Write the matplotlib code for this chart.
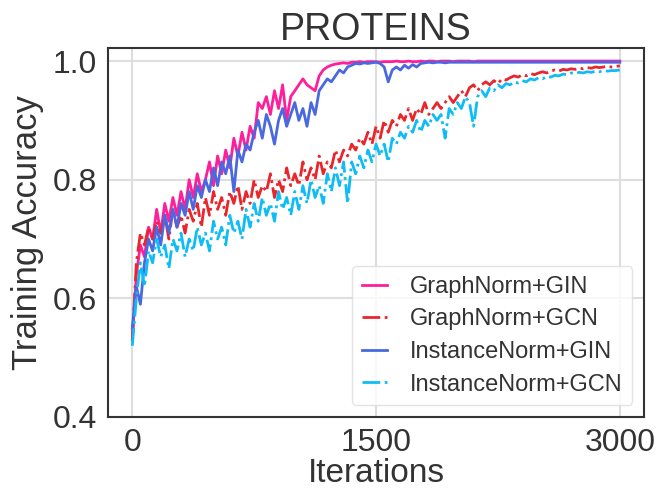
import numpy as np
import matplotlib
matplotlib.use('Agg')
import matplotlib.pyplot as plt

# iterations shared by all four runs (one point every 25 iterations)
iterations = np.arange(0, 3001, 25)

graphnorm_gin = [
    0.53, 0.64, 0.69, 0.67, 0.72, 0.70, 0.75, 0.71, 0.76, 0.73,
    0.77, 0.74, 0.78, 0.75, 0.80, 0.77, 0.81, 0.78, 0.80, 0.83,
    0.79, 0.84, 0.81, 0.85, 0.82, 0.87, 0.84, 0.88, 0.85, 0.89,
    0.87, 0.93, 0.92, 0.94, 0.91, 0.95, 0.92, 0.96, 0.90, 0.94,
    0.95, 0.96, 0.97, 0.96, 0.955, 0.95, 0.975, 0.985, 0.99, 0.993,
    0.995, 0.996, 0.997, 0.996, 0.998, 0.998, 0.999, 0.998, 0.999, 0.999,
    0.999, 0.998, 0.999, 0.999, 0.999, 1.0, 0.999, 0.999, 1.0, 0.999,
    0.999, 1.0, 0.999, 1.0, 1.0, 0.999, 1.0, 1.0, 1.0, 0.999,
    1.0, 1.0, 1.0, 1.0, 0.999, 1.0, 1.0, 1.0, 1.0, 1.0,
    1.0, 1.0, 1.0, 1.0, 1.0, 1.0, 1.0, 1.0, 1.0, 1.0,
    1.0, 1.0, 1.0, 1.0, 1.0, 1.0, 1.0, 1.0, 1.0, 1.0,
    1.0, 1.0, 1.0, 1.0, 1.0, 1.0, 1.0, 1.0, 1.0, 1.0,
    1.0,
]

graphnorm_gcn = [
    0.53, 0.66, 0.71, 0.69, 0.72, 0.70, 0.73, 0.71, 0.74, 0.70,
    0.75, 0.72, 0.74, 0.71, 0.75, 0.73, 0.76, 0.72, 0.77, 0.74,
    0.78, 0.75, 0.77, 0.74, 0.78, 0.76, 0.79, 0.75, 0.78, 0.76,
    0.80, 0.77, 0.79, 0.78, 0.81, 0.77, 0.80, 0.78, 0.82, 0.79,
    0.81, 0.79, 0.83, 0.80, 0.82, 0.80, 0.84, 0.81, 0.83, 0.82,
    0.85, 0.83, 0.85, 0.84, 0.86, 0.85, 0.87, 0.86, 0.88, 0.86,
    0.89, 0.87, 0.90, 0.88, 0.90, 0.89, 0.91, 0.90, 0.92, 0.90,
    0.92, 0.91, 0.93, 0.91, 0.92, 0.93, 0.92, 0.93, 0.94, 0.93,
    0.94, 0.95, 0.94, 0.955, 0.96, 0.95, 0.96, 0.965, 0.96, 0.967,
    0.962, 0.97, 0.968, 0.972, 0.975, 0.973, 0.977, 0.975, 0.979, 0.977,
    0.98, 0.982, 0.98, 0.983, 0.985, 0.983, 0.986, 0.985, 0.987, 0.986,
    0.988, 0.987, 0.989, 0.988, 0.99, 0.989, 0.99, 0.991, 0.99, 0.991,
    0.992,
]

instancenorm_gin = [
    0.55, 0.62, 0.59, 0.66, 0.70, 0.68, 0.72, 0.69, 0.74, 0.71,
    0.75, 0.72, 0.76, 0.74, 0.78, 0.75, 0.79, 0.77, 0.80, 0.78,
    0.82, 0.79, 0.83, 0.81, 0.84, 0.78, 0.85, 0.83, 0.86, 0.85,
    0.88, 0.90, 0.87, 0.91, 0.89, 0.86, 0.90, 0.92, 0.89, 0.91,
    0.93, 0.90, 0.92, 0.89, 0.93, 0.91, 0.95, 0.96, 0.97, 0.965,
    0.975, 0.985, 0.98, 0.99, 0.993, 0.996, 0.995, 0.997, 0.996, 0.997,
    0.998, 0.996, 0.99, 0.965, 0.985, 0.99, 0.985, 0.993, 0.988, 0.994,
    0.99, 0.996, 0.997, 0.998, 0.997, 0.998, 0.998, 0.997, 0.998, 0.998,
    0.998, 0.998, 0.998, 0.998, 0.998, 0.998, 0.998, 0.998, 0.998, 0.998,
    0.998, 0.998, 0.998, 0.998, 0.998, 0.998, 0.998, 0.998, 0.998, 0.998,
    0.998, 0.998, 0.998, 0.998, 0.998, 0.998, 0.998, 0.998, 0.998, 0.998,
    0.998, 0.998, 0.998, 0.998, 0.998, 0.998, 0.998, 0.998, 0.998, 0.998,
    0.998,
]

instancenorm_gcn = [
    0.52, 0.60, 0.66, 0.62, 0.68, 0.66, 0.70, 0.67, 0.69, 0.65,
    0.70, 0.68, 0.71, 0.67, 0.70, 0.68, 0.72, 0.69, 0.71, 0.68,
    0.73, 0.70, 0.72, 0.69, 0.74, 0.71, 0.73, 0.70, 0.75, 0.72,
    0.76, 0.73, 0.77, 0.74, 0.76, 0.73, 0.78, 0.75, 0.77, 0.74,
    0.78, 0.75, 0.79, 0.76, 0.80, 0.77, 0.79, 0.76, 0.81, 0.78,
    0.82, 0.79, 0.83, 0.76, 0.83, 0.81, 0.84, 0.82, 0.85, 0.83,
    0.86, 0.84, 0.86, 0.83, 0.87, 0.86, 0.88, 0.87, 0.89, 0.88,
    0.90, 0.88, 0.90, 0.89, 0.91, 0.90, 0.91, 0.87, 0.92, 0.91,
    0.93, 0.92, 0.94, 0.93, 0.89, 0.94, 0.95, 0.94, 0.955, 0.95,
    0.96, 0.955, 0.962, 0.96, 0.965, 0.963, 0.967, 0.965, 0.97, 0.968,
    0.972, 0.97, 0.974, 0.973, 0.976, 0.975, 0.978, 0.977, 0.98, 0.979,
    0.981, 0.98, 0.982, 0.981, 0.983, 0.982, 0.984, 0.983, 0.984, 0.984,
    0.985,
]

labels = ['GraphNorm+GIN', 'GraphNorm+GCN', 'InstanceNorm+GIN', 'InstanceNorm+GCN']
colors = ['#ff1f9a', '#e8262b', '#4a68e0', '#10bcf5']
styles = ['-', '-.', '-', '-.']

plt.rcParams['font.family'] = ['Liberation Sans', 'DejaVu Sans']

fig = plt.figure(figsize=(6.58, 4.90), dpi=100)
ax = fig.add_axes([0.164, 0.149, 0.815, 0.753])

for ys, lab, c, ls in zip([graphnorm_gin, graphnorm_gcn, instancenorm_gin, instancenorm_gcn],
                          labels, colors, styles):
    ax.plot(iterations, ys, ls, color=c, lw=2, label=lab)

ax.set_xlim(-150, 3150)
ax.set_ylim(0.4, 1.022)
ax.set_xticks([0, 1500, 3000])
ax.set_yticks([0.4, 0.6, 0.8, 1.0])
ax.grid(True, color='#dedede', lw=1.5)
ax.set_axisbelow(True)
for s in ax.spines.values():
    s.set_color('#333333')
    s.set_linewidth(1.5)
ax.tick_params(labelsize=23, colors='#333333', length=0, pad=8)
ax.set_xlabel('Iterations', fontsize=24, color='#333333', labelpad=0)
ax.set_ylabel('Training Accuracy', fontsize=25, color='#333333', labelpad=6)
ax.set_title('PROTEINS', fontsize=27, color='#333333', pad=3)

leg = ax.legend(loc='lower right', fontsize=17, handlelength=1.05, handletextpad=1.0,
                labelspacing=0.45, borderpad=0.4, fancybox=True, framealpha=0.8,
                edgecolor='#dddddd')
for t in leg.get_texts():
    t.set_color('#333333')

fig.savefig('out.png', dpi=100)
